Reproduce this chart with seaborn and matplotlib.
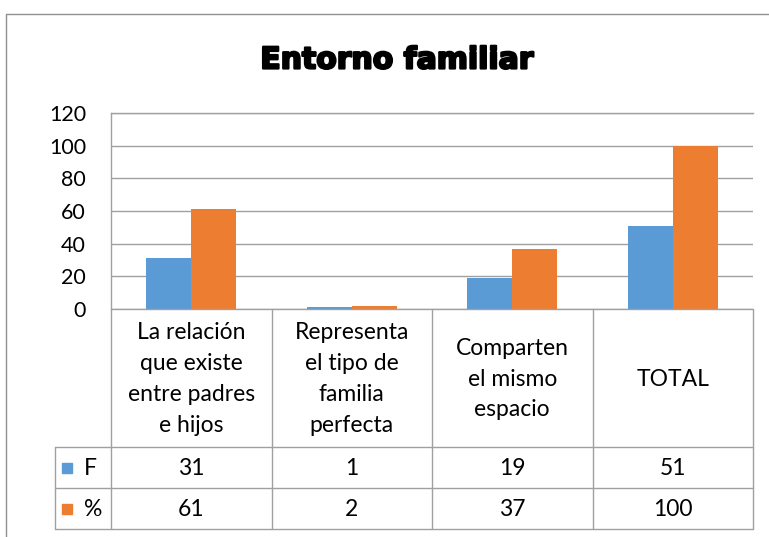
import matplotlib
matplotlib.use("Agg")
import matplotlib.pyplot as plt
import matplotlib.patheffects as pe
import seaborn as sns
import pandas as pd
from matplotlib.patches import Rectangle

categories = ["La relación\nque existe\nentre padres\ne hijos",
              "Representa\nel tipo de\nfamilia\nperfecta",
              "Comparten\nel mismo\nespacio",
              "TOTAL"]
series_names = ["F", "%"]
f_values = [31, 1, 19, 51]
pct_values = [61, 2, 37, 100]
yticks = [0, 20, 40, 60, 80, 100, 120]
title = "Entorno familiar"
colors = ["#5B9BD5", "#ED7D31"]

sns.set_theme(style="white")
plt.rcParams['font.family'] = ['Lato', 'DejaVu Sans']

W, H = 769, 537
fig = plt.figure(figsize=(W / 100, H / 100), dpi=100)

L, R, T, B = 111, 753, 113, 309
ax = fig.add_axes([L / W, 1 - B / H, (R - L) / W, (B - T) / H])

df = pd.DataFrame({
    "cat": list(range(len(categories))) * 2,
    "series": [series_names[0]] * len(categories) + [series_names[1]] * len(categories),
    "val": f_values + pct_values,
})
sns.barplot(data=df, x="cat", y="val", hue="series", palette=colors,
            width=0.56, ax=ax, legend=False, linewidth=0, saturation=1)
ax.set_xlim(-0.5, len(categories) - 0.5)
ax.set_ylim(0, 120)
ax.set_yticks(yticks)
ax.set_yticklabels([str(v) for v in yticks], fontsize=15.5)
ax.set_xticks([])
ax.set_xlabel("")
ax.set_ylabel("")
ax.tick_params(axis="y", length=0, pad=18, colors="black")
ax.yaxis.grid(True, color="#a0a0a0", linewidth=1)
ax.set_axisbelow(True)
for s in ["right", "bottom"]:
    ax.spines[s].set_visible(False)
for s in ["top", "left"]:
    ax.spines[s].set_color("#a0a0a0")
    ax.spines[s].set_linewidth(1)

fig.text(397 / W, 1 - 60 / H, title, ha="center", va="center",
         fontsize=21.5, fontweight="bold", family=["DejaVu Sans"], color="black",
         path_effects=[pe.withStroke(linewidth=1.6, foreground="black")])

ov = fig.add_axes([0, 0, 1, 1], zorder=5)
ov.set_xlim(0, W)
ov.set_ylim(H, 0)
ov.axis("off")
ov.patch.set_alpha(0)

fig.canvas.draw()
def px(xd):
    x, _ = ax.transData.transform((xd, 0))
    return x

gc = "#a0a0a0"
ov.plot([6, 6], [14, H], color="#909090", lw=1)
ov.plot([6, W], [14, 14], color="#909090", lw=1)

row_cat_top, row_f_top, row_p_top, row_bot = B, 447, 488, 529
lab_left = 55
n = len(categories)
bounds = [px(i - 0.5) for i in range(n)] + [px(n - 0.5)]
for xb in bounds:
    ov.plot([xb, xb], [row_cat_top, row_bot], color=gc, lw=1)
ov.plot([bounds[0], bounds[-1]], [row_cat_top, row_cat_top], color=gc, lw=1)
for yy in [row_f_top, row_p_top, row_bot]:
    ov.plot([lab_left, bounds[-1]], [yy, yy], color=gc, lw=1)
ov.plot([lab_left, lab_left], [row_f_top, row_bot], color=gc, lw=1)

fs = 16.5
for i, cat in enumerate(categories):
    cx = px(i)
    ov.text(cx, (row_cat_top + row_f_top) / 2 + 1, cat, ha="center", va="center",
            fontsize=fs, linespacing=1.58, color="black")
    ov.text(cx, (row_f_top + row_p_top) / 2 + 1, str(f_values[i]), ha="center",
            va="center", fontsize=fs, color="black")
    ov.text(cx, (row_p_top + row_bot) / 2 + 1, str(pct_values[i]), ha="center",
            va="center", fontsize=fs, color="black")

for name, col, (y0, y1) in zip(series_names, colors,
                               [(row_f_top, row_p_top), (row_p_top, row_bot)]):
    yc = (y0 + y1) / 2
    ov.add_patch(Rectangle((62, yc - 5), 10, 10, color=col))
    ov.text(84, yc + 1, name, ha="left", va="center", fontsize=fs, color="black")

fig.savefig("out.png", dpi=100)
